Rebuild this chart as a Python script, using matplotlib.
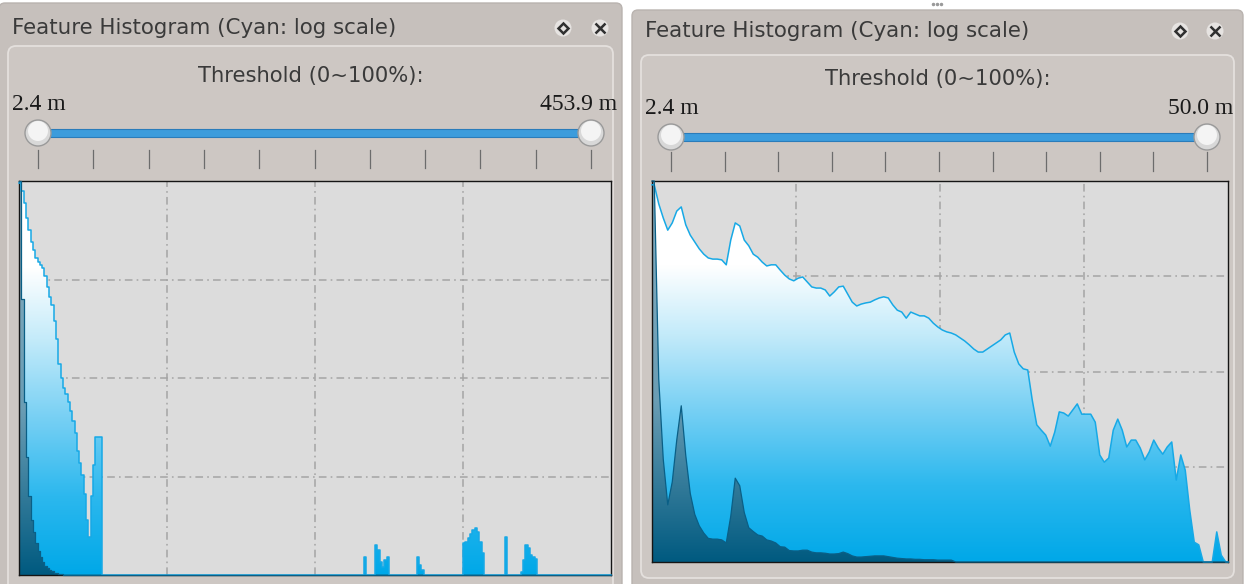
import numpy as np
import matplotlib.pyplot as plt
from matplotlib.colors import LinearSegmentedColormap
from matplotlib.patches import Polygon, FancyBboxPatch, Rectangle, Circle

plt.rcParams['lines.scale_dashes'] = False

W, H = 1248, 584

title = 'Feature Histogram (Cyan: log scale)'
threshold_label = 'Threshold (0~100%):'

# left widget: range 2.4 m .. 453.9 m, 256 bins, heights in % of plot height
left_range = ['2.4 m', '453.9 m']
left_bins = 256
left_log = ([99.5, 97.5, 94.5, 90.5, 87.5, 84.5, 82.5, 80.5, 79.5, 78.8,
             77.8, 76, 73, 70.5, 68.5, 64.5, 60, 53.5, 50, 47.5,
             46, 44, 41.5, 39, 36, 31.5, 28.5, 25.5, 20.5, 14,
             9.6, 20, 28, 35, 35, 35]
            + [0] * 113 + [4.6] + [0] * 4
            + [7.6, 6.3, 3.4, 2, 3.8, 4.6] + [0] * 12
            + [4.6, 2.5, 1.2] + [0] * 17
            + [8, 8.5, 9.4, 10.5, 11.5, 12, 11, 8.5, 5.5] + [0] * 9
            + [9.7] + [0] * 6
            + [0.8, 3.8, 7.6, 6.8, 5, 4.6, 4] + [0] * 32)
left_lin = ([100, 70, 44, 30, 20, 14, 11, 8, 6, 4.5,
             3.3, 2.4, 1.7, 1.2, 0.9, 0.6, 0.4, 0.3, 0.2, 0.1,
             0.1, 0.1, 0.1] + [0] * 233)

# right widget: range 2.4 m .. 50.0 m, 128 bins
right_range = ['2.4 m', '50.0 m']
right_bins = 128
right_log = [99, 94, 90.3, 87.1, 89, 92.1, 93.2, 88.5, 85.8, 84,
             82.2, 80.8, 79.8, 79.5, 79.5, 79.3, 78, 84.5, 89, 88.2,
             84.5, 83, 80.8, 80, 78.7, 77.7, 78, 78, 76.6, 75.3,
             74.3, 73.8, 74.5, 74.8, 73.5, 72.2, 71.9, 71.9, 71.4, 69.8,
             70.9, 72.2, 72.4, 70.3, 68.2, 67.2, 67.7, 68, 68.2, 68.8,
             69.3, 69.6, 69.3, 67.5, 66.1, 65.6, 64, 65.6, 65.1, 64.6,
             64.6, 64, 62.7, 61.7, 60.9, 60.4, 60.1, 59.6, 58.8, 58,
             57, 55.9, 55.1, 55.1, 55.9, 56.7, 57.5, 58.3, 59.6, 60.1,
             55.1, 52, 50.7, 50.4, 42.5, 36, 34.6, 33.3, 30.4, 34.1,
             39.4, 39.1, 38.3, 39.9, 41.5, 38.8, 38.8, 38.8, 36.7, 28.1,
             26.2, 27.3, 34.6, 37.5, 34.6, 30.2, 32, 32, 29.9, 26.8,
             28.9, 32, 29.9, 28.3, 30.2, 31.5, 21.5, 28.1, 24.1, 13.6,
             5.2, 4.5, 0, 0, 0, 7.9, 1.8, 0]
right_lin = ([100, 48, 27, 15, 21, 32, 41, 28, 18, 12.5,
              9.5, 7.6, 6.2, 6, 6, 5.8, 5, 12, 22, 20,
              13, 9, 8, 7.1, 6.8, 5.8, 5.5, 5, 4, 3.9,
              3, 2.9, 2.9, 3.1, 3.1, 2.6, 2.4, 2.4, 2.3, 2.1,
              2.1, 2.2, 2.6, 2.2, 1.6, 1.3, 1.3, 1.4, 1.5, 1.6,
              1.6, 1.6, 1.4, 1.2, 1.0, 0.9, 0.8, 0.8, 0.7, 0.7,
              0.6, 0.6, 0.6, 0.5, 0.5, 0.5, 0.5] + [0] * 61)

cyan_cmap = LinearSegmentedColormap.from_list('cyan', [
    (0.0, '#00a8e8'), (0.2, '#2cb8ee'), (0.4, '#78d0f4'),
    (0.6, '#c4ebfa'), (0.78, '#ffffff'), (1.0, '#ffffff')])
dark_cmap = LinearSegmentedColormap.from_list('dark', [
    (0.0, '#005a80'), (0.42, '#6a9db4'), (1.0, '#86adbf')])

PANEL = '#c6c0bc'
INNER = '#cdc7c3'
TEXT = '#3a3a3a'


def px_axes(fig, x0, y0, x1, y1):
    return fig.add_axes([x0 / W, (H - y1) / H, (x1 - x0) / W, (y1 - y0) / H])


def draw_series(ax, values, n, step, cmap, line_color, lw):
    v = np.asarray(values, float)
    if step:
        xs = np.repeat(np.arange(n + 1), 2)[1:-1]
        ys = np.repeat(v, 2)
    else:
        xs = np.concatenate([[0], np.arange(n) + 0.5, [n]])
        ys = np.concatenate([[v[0]], v, [v[-1]]])
    verts = np.column_stack([np.concatenate([[xs[0]], xs, [xs[-1]]]),
                             np.concatenate([[0], ys, [0]])])
    patch = Polygon(verts, closed=True, fc='none', ec='none')
    ax.add_patch(patch)
    grad = np.linspace(0, 1, 256).reshape(-1, 1)
    im = ax.imshow(grad, cmap=cmap, extent=[0, n, 0, 100], origin='lower',
                   aspect='auto', zorder=1, interpolation='bilinear')
    im.set_clip_path(patch)
    ax.plot(xs, ys, color=line_color, lw=lw, zorder=3, clip_on=False)


def histogram(fig, box, n, log_vals, lin_vals, step):
    ax = px_axes(fig, *box)
    ax.set_facecolor('#dcdcdc')
    draw_series(ax, log_vals, n, step, cyan_cmap, '#17a9e6', 1.1)
    draw_series(ax, lin_vals, n, step, dark_cmap, '#0a5f86', 0.9)
    ax.set_xlim(0, n)
    ax.set_ylim(0, 100)
    ax.set_xticks([n / 4, n / 2, 3 * n / 4])
    ax.set_yticks([25, 50, 75])
    ax.tick_params(length=0, labelbottom=False, labelleft=False)
    ax.set_axisbelow(True)
    ax.grid(True, color='#a4a4a4', lw=1.1, linestyle=(0, (5.5, 3, 1.2, 3)))
    for s in ax.spines.values():
        s.set_color('#151515')
        s.set_linewidth(1.0)
    return ax


def widget(bg, x0, y0, x1, y1, inner_top, inner_bottom, title_y, icons_x,
           thr_y, rng, rng_y, rng_x, slider_x, slider_y, tick_y):
    bg.add_patch(FancyBboxPatch((x0, y0), x1 - x0, y1 - y0,
                                boxstyle='round,pad=0,rounding_size=6',
                                fc=PANEL, ec='#b9b3af', lw=1))
    bg.add_patch(FancyBboxPatch((x0 + 9, inner_top), x1 - x0 - 18,
                                inner_bottom - inner_top,
                                boxstyle='round,pad=0,rounding_size=8',
                                fc=INNER, ec='#e4e0dd', lw=1.3))
    bg.text(x0 + 13, title_y, title, fontsize=15.4, color=TEXT, va='center')
    # float / close buttons
    for ix in icons_x:
        bg.add_patch(Circle((ix, title_y), 8.5, fc='#e6e3e1', ec='none'))
    bg.plot(icons_x[0], title_y, marker='D', ms=5.5, mfc='none',
            mec='#303030', mew=1.8)
    bg.plot(icons_x[1], title_y, marker='x', ms=6.5, mec='#303030', mew=1.8)

    cx = (x0 + x1) / 2
    bg.text(cx, thr_y, threshold_label, fontsize=15.2, color=TEXT,
            ha='center', va='center')
    bg.text(rng_x[0], rng_y, rng[0], fontsize=17, color='#1a1a1a',
            family='Liberation Serif', va='center', ha='left')
    bg.text(rng_x[1], rng_y, rng[1], fontsize=17, color='#1a1a1a',
            family='Liberation Serif', va='center', ha='right')

    sx0, sx1 = slider_x
    for tx in np.linspace(sx0, sx1, 11):
        bg.plot([tx, tx], tick_y, color='#6c6c6c', lw=0.9)
    bg.add_patch(Rectangle((sx0, slider_y - 4), sx1 - sx0, 8,
                           fc='#3c9cdc', ec='#2a7cba', lw=0.8))
    for hx in slider_x:
        bg.add_patch(Circle((hx, slider_y), 13, fc='#d8d8d8',
                            ec='#9a9a9a', lw=1))
        bg.add_patch(Circle((hx, slider_y - 2), 10, fc='#f4f4f4', ec='none'))


fig = plt.figure(figsize=(W / 100, H / 100), dpi=100, facecolor='white')
bg = fig.add_axes([0, 0, 1, 1])
bg.set_xlim(0, W)
bg.set_ylim(H, 0)
bg.axis('off')

widget(bg, -1, 3, 622, 600, 46, 600, 28, (563, 600), 76, left_range, 104,
       (12, 617), (38, 591), 133, (150, 168))
widget(bg, 632, 10, 1243, 600, 55, 578, 31, (1180, 1215), 79, right_range,
       108, (645, 1233), (671, 1207), 137, (152, 171))
for dx in (-4, 0, 4):
    bg.plot(937 + dx, 4, marker='o', ms=1.5, color='#9a9a9a')

histogram(fig, (19, 181, 611, 575), left_bins, left_log, left_lin, True)
histogram(fig, (652, 181, 1228, 562), right_bins, right_log, right_lin, False)

fig.savefig('out.png', dpi=100, facecolor='white')
